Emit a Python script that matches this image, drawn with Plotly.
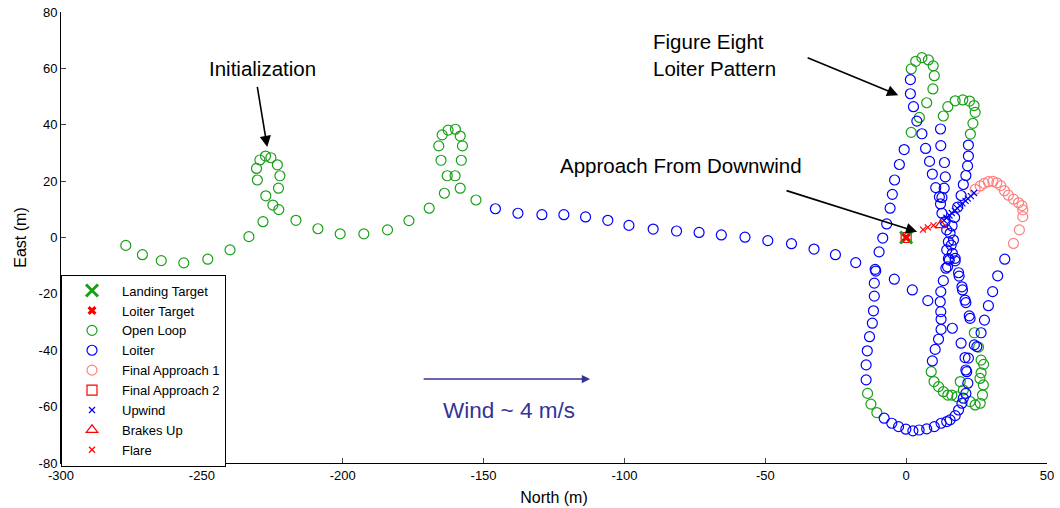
import plotly.graph_objects as go

# ---------------- data (North m, East m) ----------------
landing_north = [0.0]
landing_east = [0.0]

loiter_target_north = [0.0]
loiter_target_east = [0.0]

open_loop_north = [
    -277.0, -271.1, -264.4, -256.4, -247.9, -240.0, -233.3, -228.3,
    -227.3, -224.8, -222.7, -222.8, -222.3, -223.2, -225.5, -227.4, -229.4, -230.6, -230.3,
    -216.6, -208.8, -200.9, -192.5, -184.1, -176.5, -169.3, -163.9,
    -162.9, -160.1, -158.3, -157.9, -157.5, -158.3, -160.0, -162.6, -164.7, -165.9, -165.1,
    -152.7,
    1.8, 3.4, 5.6, 7.9, 9.6, 10.0, 9.5, 7.3, 4.7, 1.8,
    13.2, 14.8, 17.4, 20.1, 22.5, 24.1, 24.5, 23.7, 22.8,
    -13.7, -12.5, -10.4,
    8.9, 9.9, 11.5, 13.2, 14.8, 16.2, 18.0, 19.2, 20.3,
    24.2, 25.7, 26.6, 26.6, 27.4, 27.1, 26.3, 24.5, 22.7, 27.5, 26.2,
]
open_loop_east = [
    -2.8, -6.1, -8.2, -9.0, -7.7, -4.4, 0.3, 5.6,
    14.8, 11.5, 9.9, 17.5, 21.9, 25.8, 28.3, 28.9, 27.5, 24.5, 20.4,
    6.1, 3.1, 1.3, 1.3, 2.7, 6.0, 10.4, 15.7,
    21.9, 21.9, 17.5, 27.4, 32.5, 36.0, 38.4, 38.1, 36.4, 32.5, 27.4,
    13.3,
    59.8, 62.5, 63.8, 63.0, 60.9, 57.4, 52.7, 47.8, 42.6, 37.3,
    43.1, 46.4, 48.5, 48.8, 48.4, 46.8, 44.4, 40.5, 36.7,
    -55.3, -59.1, -62.1,
    -47.6, -51.1, -52.9, -54.7, -55.9, -55.9, -56.5, -51.1, -54.1,
    -33.8, -38.9, -43.5, -48.0, -52.3, -55.9, -58.8, -59.4, -58.2, -45.0, -50.0,
]

loiter_north = [
    -145.8, -137.8, -129.3, -121.5, -113.8, -105.9, -98.4, -89.8, -81.5,
    -73.5, -65.6, -57.2, -49.1, -40.7, -32.7, -25.1, -17.9,
    -9.6, -8.3, -6.9, -5.7, -4.9, -4.1, -2.4, -0.7,
    1.5, 1.5, 2.6, 3.8, 5.6, 6.9, 8.3, 9.3, 10.5, 11.8, 12.2, 12.7,
    12.2, 12.3, 13.6, 13.9, 13.5, 12.7,
    22.1, 22.1, 21.8, 21.2, 20.3, 19.5, 18.3, 17.2, 16.3, 15.6, 15.0, 14.4,
    13.8, 14.4, 16.8, 16.0, 17.4, 15.0, 14.7,
    -11.0, -10.8, -11.3, -11.3, -11.6, -12.0, -13.0, -13.8, -14.2, -14.2,
    -7.8, -5.1, -2.7, -0.1, 2.4, 4.6, 7.3, 10.0, 12.4, 14.4, 15.6, 17.4,
    18.6, 19.8, 20.3, 21.2, 21.9, 21.5, 21.2, 22.1, 20.9,
    -4.2, 2.2, 7.7, 16.4, 19.5,
    15.3, 14.1, 13.2, 12.3, 12.1, 12.3, 12.4, 12.4, 11.5, 10.3, 9.3,
    16.4, 17.4, 18.6, 18.8, 19.8, 20.0, 20.9, 21.2, 22.4, 22.7, 24.2, 25.1,
    35.0, 32.5, 30.7, 29.2, 27.8, 26.6,
]
loiter_east = [
    10.2, 8.6, 8.1, 8.1, 7.3, 6.1, 4.3, 3.0, 2.3,
    1.8, 0.9, 0.1, -1.1, -2.2, -4.1, -6.1, -8.9,
    -5.1, -0.2, 4.8, 10.4, 15.3, 20.4, 25.9, 31.2,
    56.0, 51.0, 46.4, 41.3, 36.8, 31.6, 27.0, 22.5, 17.7, 14.4, 11.9, 8.6,
    38.5, 32.6, 26.6, 21.5, 17.5, 14.2,
    32.8, 28.9, 25.4, 22.0, 18.8, 14.9, 10.8, 7.1, 4.1, 1.5, -1.5, -4.4,
    5.6, 2.7, -0.9, -2.7, -7.4, -7.5, -10.4,
    -11.3, -11.9, -16.2, -20.8, -26.0, -30.4, -35.2, -40.2, -45.2, -50.5,
    -64.1, -65.9, -67.1, -68.0, -68.6, -68.3, -67.9, -67.1, -65.9, -65.3, -64.7, -63.2,
    -61.2, -58.8, -57.0, -55.3, -51.7, -47.6, -47.0, -42.8, -42.6,
    -14.8, -18.6, -22.4, -32.2, -37.5,
    -8.0, -10.9, -15.3, -19.2, -22.8, -26.3, -29.0, -32.6, -36.1, -39.7, -43.8,
    -5.6, -8.3, -12.5, -13.7, -17.5, -18.6, -22.2, -23.1, -27.8, -28.7, -38.1, -38.7,
    -7.7, -13.6, -19.2, -24.2, -29.3, -33.8,
]

final1_north = [24.5, 26.3, 27.7, 29.2, 30.8, 32.2, 33.6, 34.9, 36.3, 38.1, 39.9, 41.1, 41.4, 41.4, 40.2, 38.1]
final1_east = [17.1, 18.3, 19.2, 19.8, 19.9, 19.4, 18.4, 16.6, 15.0, 13.6, 12.3, 11.3, 9.8, 7.4, 2.7, -2.1]

final2_north = [0.0]
final2_east = [0.0]

upwind_north = [13.4, 14.3, 15.4, 16.2, 17.3, 18.1, 19.2, 20.0, 21.1, 21.9, 23.0, 24.1]
upwind_east = [6.1, 7.0, 7.8, 8.7, 9.5, 10.4, 11.2, 12.1, 13.0, 13.8, 14.7, 15.8]

brakes_north = [12.3]
brakes_east = [4.4]

flare_north = [6.0, 7.7, 9.7]
flare_east = [2.8, 3.6, 4.3]

x_ticks = [-300, -250, -200, -150, -100, -50, 0, 50]
x_tick_labels = ["-300", "-250", "-200", "-150", "-100", "-50", "0", "50"]
y_ticks = [-80, -60, -40, -20, 0, 20, 40, 60, 80]
y_tick_labels = ["-80", "-60", "-40", "-20", "0", "20", "40", "60", "80"]

# ---------------- styles ----------------
GREEN = "#18a018"
BLUE = "#0000ff"
PINK = "#ff8080"
RED = "#ff0000"
WIND = "#343498"
FONT = "Liberation Sans, Arial, sans-serif"

fig = go.Figure()

def add(name, xs, ys, symbol, color, size, lw=1.2):
    fig.add_trace(go.Scatter(
        x=xs, y=ys, mode="markers", name=name,
        marker=dict(symbol=symbol, size=size, color=color,
                    line=dict(color=color, width=lw)),
    ))

add("Open Loop", open_loop_north, open_loop_east, "circle-open", GREEN, 10, 1.2)
add("Loiter", loiter_north, loiter_east, "circle-open", BLUE, 10, 1.2)
add("Final Approach 1", final1_north, final1_east, "circle-open", PINK, 10, 1.2)
add("Final Approach 2", final2_north, final2_east, "square-open", RED, 10, 1.2)
add("Upwind", upwind_north, upwind_east, "x-thin", BLUE, 6, 1.2)
add("Brakes Up", brakes_north, brakes_east, "triangle-up-open", RED, 10, 1.2)
add("Flare", flare_north, flare_east, "x-thin", RED, 6, 1.2)
add("Landing Target", landing_north, landing_east, "x-thin", GREEN, 12, 3)
add("Loiter Target", loiter_target_north, loiter_target_east, "x", RED, 8, 0)

order = ["Landing Target", "Loiter Target", "Open Loop", "Loiter", "Final Approach 1",
         "Final Approach 2", "Upwind", "Brakes Up", "Flare"]
for t in fig.data:
    t.legendrank = order.index(t.name) + 1

ann_font = dict(family=FONT, size=20.5, color="black")
arrow = dict(showarrow=True, arrowhead=2, arrowsize=1.4, arrowwidth=1.6,
             arrowcolor="black", axref="x", ayref="y", text="")
annotations = [
    dict(x=-228.6, y=60.1, text="Initialization", showarrow=False, font=ann_font),
    dict(x=-226.8, y=32.1, ax=-230.4, ay=54.0, **arrow),
    dict(x=-90.6, y=64.6, text="Figure Eight<br>Loiter Pattern", showarrow=False,
         font=ann_font, xanchor="left", align="left"),
    dict(x=-2.8, y=50.5, ax=-35.5, ay=64.0, **arrow),
    dict(x=-79.9, y=25.4, text="Approach From Downwind", showarrow=False, font=ann_font),
    dict(x=3.9, y=2.0, ax=-43.0, ay=16.8, **arrow),
    dict(x=-141.0, y=-61.4, text="Wind ~ 4 m/s", showarrow=False,
         font=dict(family=FONT, size=22.5, color=WIND)),
    dict(x=-112.2, y=-50.2, ax=-171.8, ay=-50.2, showarrow=True, arrowhead=2,
         arrowsize=1.1, arrowwidth=1.5, arrowcolor=WIND, axref="x", ayref="y", text=""),
]

fig.update_layout(
    width=1060, height=508,
    margin=dict(l=61, r=13, t=12, b=45, autoexpand=False),
    paper_bgcolor="white", plot_bgcolor="white",
    font=dict(family=FONT, size=13, color="black"),
    showlegend=True,
    legend=dict(x=0, y=-0.008, xanchor="left", yanchor="bottom",
                bgcolor="white", bordercolor="black", borderwidth=1,
                font=dict(family=FONT, size=13), itemwidth=50,
                tracegroupgap=0),
    annotations=annotations,
)
fig.update_xaxes(range=[-300, 50], tickvals=x_ticks, ticktext=x_tick_labels,
                 ticks="inside", ticklen=5, automargin=False,
                 showline=True, linecolor="black", linewidth=1, showgrid=False,
                 zeroline=False, title=dict(text="North (m)", standoff=10),
                 tickfont=dict(size=13))
fig.update_yaxes(range=[-80, 80], tickvals=y_ticks, ticktext=y_tick_labels,
                 ticks="inside", ticklen=5, automargin=False,
                 showline=True, linecolor="black", linewidth=1, showgrid=False,
                 zeroline=False, title=dict(text="East (m)", standoff=8),
                 tickfont=dict(size=13))

fig.write_html("out.html")
